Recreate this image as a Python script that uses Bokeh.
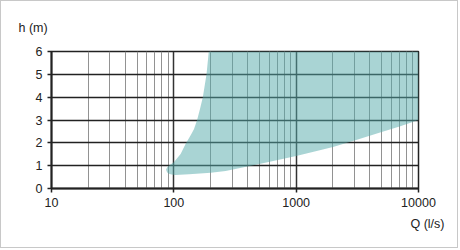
from bokeh.plotting import figure
from bokeh.models import FixedTicker, Range1d, NumeralTickFormatter, Title
from bokeh.embed import file_html
from bokeh.resources import INLINE

# axis ticks
q_major = [10, 100, 1000, 10000]
q_minor = [m * d for d in (10, 100, 1000) for m in range(2, 10)]
h_ticks = [0, 1, 2, 3, 4, 5, 6]

# operating area boundary (Q in l/s, h in m)
left_edge_q = [86.5, 88, 91, 100, 113.6, 124.7, 138, 146, 155, 164, 172.6, 185, 193]
left_edge_h = [0.82, 0.92, 1.0, 1.15, 1.51, 1.95, 2.35, 2.6, 3.0, 3.5, 4.0, 5.0, 6.0]
top_q = [10000]
top_h = [6.0]
lower_edge_q = [10000, 7000, 5000, 3000, 2000, 1500, 1000, 500, 265, 200, 133, 103, 96, 91, 88]
lower_edge_h = [3.0, 2.72, 2.47, 2.1, 1.82, 1.65, 1.42, 1.07, 0.77, 0.69, 0.62, 0.59, 0.61, 0.65, 0.71]

area_q = left_edge_q + top_q + lower_edge_q
area_h = left_edge_h + top_h + lower_edge_h

FONT = "Liberation Sans"
TXT = "#222222"

p = figure(width=458, height=248, x_axis_type="log",
           x_range=Range1d(10, 10000), y_range=Range1d(0, 6),
           output_backend="svg", toolbar_location=None,
           min_border_left=50, min_border_right=41,
           min_border_top=50, min_border_bottom=61)
p.styles = {"border": "1px solid #c8c8c8"}

p.patch(area_q, area_h, fill_color="#53aaaa", fill_alpha=0.5, line_color=None)

p.xaxis.ticker = FixedTicker(ticks=q_major, minor_ticks=q_minor)
p.xaxis.formatter = NumeralTickFormatter(format="0")
p.yaxis.ticker = FixedTicker(ticks=h_ticks)
for ax in (p.xaxis, p.yaxis):
    ax.axis_line_color = TXT
    ax.axis_line_width = 2
    ax.major_tick_line_color = TXT
    ax.major_tick_line_width = 1.5
    ax.major_tick_out = 4
    ax.major_tick_in = 0
    ax.minor_tick_line_color = None
    ax.major_label_standoff = 5
    ax.major_label_text_font = FONT
    ax.major_label_text_font_size = "12.5px"
    ax.major_label_text_color = TXT

p.xgrid.grid_line_color = "#333333"
p.xgrid.grid_line_width = 1.5
p.xgrid.minor_grid_line_color = "#929292"
p.xgrid.minor_grid_line_width = 1
p.ygrid.grid_line_color = "#222222"
p.ygrid.grid_line_width = 1.3

p.outline_line_color = TXT
p.outline_line_width = 1.5

p.add_layout(Title(text="h (m)", align="left", offset=-33, standoff=33,
                   text_font=FONT, text_font_size="12.5px", text_color=TXT,
                   text_font_style="normal"), "above")
p.add_layout(Title(text="Q (l/s)", align="right", offset=-26, standoff=11,
                   text_font=FONT, text_font_size="12.5px", text_color=TXT,
                   text_font_style="normal"), "below")

open("out.html", "w").write(file_html(p, INLINE))
